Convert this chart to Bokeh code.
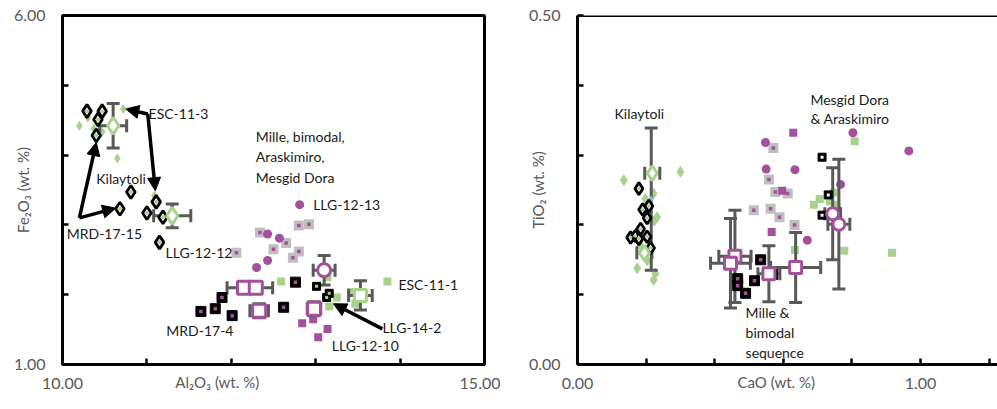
import numpy as np
from bokeh.plotting import figure
from bokeh.layouts import row
from bokeh.models import Range1d, FixedTicker, Label, Arrow, NormalHead, Span
from bokeh.embed import file_html
from bokeh.resources import INLINE

# ---------------- Left panel: Al2O3 vs Fe2O3 ----------------
kil_blk_al = [10.29, 10.47, 10.42, 10.40, 10.81, 10.68, 11.00, 11.11, 11.19, 11.15]
kil_blk_fe = [4.63, 4.63, 4.51, 4.28, 3.47, 3.23, 3.17, 3.33, 3.11, 2.75]
kil_grn_al = [10.20, 10.30, 10.37, 10.47, 10.72, 10.65, 11.09]
kil_grn_fe = [4.42, 4.54, 4.38, 4.33, 4.66, 3.95, 3.42]
kil_mean_al = [10.60, 11.30]
kil_mean_fe = [4.42, 3.13]
kil_mean_al_err = [0.16, 0.22]
kil_mean_fe_err = [0.32, 0.17]

mille_blk_al = [11.89, 11.81, 11.64, 12.01, 12.76, 12.62]
mille_blk_fe = [1.96, 1.80, 1.76, 1.70, 2.18, 1.82]
llg_blk_al = [13.01, 13.13, 13.16]
llg_blk_fe = [2.12, 1.96, 2.02]
gray_al = [12.34, 12.06, 12.80, 12.92, 12.65, 12.50, 12.80, 12.73]
gray_fe = [2.89, 2.60, 2.99, 3.01, 2.74, 2.65, 2.62, 2.53]
pcirc_al = [12.81, 12.43, 12.57, 12.43, 12.30]
pcirc_fe = [3.29, 2.87, 2.81, 2.49, 2.39]
psq_al = [12.84, 12.97, 13.14, 13.03]
psq_fe = [1.59, 1.65, 1.51, 1.39]
gsq_al = [12.59, 13.14, 13.25, 13.16, 13.85, 13.42, 13.51, 13.47]
gsq_fe = [2.19, 2.25, 1.96, 1.83, 2.19, 2.04, 2.04, 1.87]
gsq_mean_al = [13.53]
gsq_mean_fe = [1.99]
gsq_mean_al_err = [0.14]
gsq_mean_fe_err = [0.21]
psq_mean_al = [12.15, 12.29, 12.33, 12.98]
psq_mean_fe = [2.10, 2.10, 1.77, 1.80]
psq_mean_al_err = [0.20, 0.20, 0.11, 0.08]
psq_mean_fe_err = [0.07, 0.07, 0.10, 0.10]
pcirc_mean_al = [13.10]
pcirc_mean_fe = [2.35]
pcirc_mean_al_err = [0.13]
pcirc_mean_fe_err = [0.21]

# arrows (start x, start y, end x, end y) in data units
left_arrows = [
    (10.20, 3.10, 10.40, 4.18),
    (10.20, 3.10, 10.63, 3.24),
    (11.01, 4.59, 10.75, 4.66),
    (11.01, 4.59, 11.10, 3.49),
    (13.79, 1.51, 13.21, 1.87),
]
left_labels = [
    ("ESC-11-3", 11.02, 4.60),
    ("Kilaytoli", 10.40, 3.66),
    ("MRD-17-15", 10.05, 2.88),
    ("LLG-12-12", 11.22, 2.61),
    ("Mille, bimodal,", 12.29, 4.27),
    ("Araskimiro,", 12.29, 3.98),
    ("Mesgid Dora", 12.29, 3.68),
    ("LLG-12-13", 12.97, 3.29),
    ("ESC-11-1", 13.98, 2.15),
    ("MRD-17-4", 11.23, 1.49),
    ("LLG-14-2", 13.79, 1.53),
    ("LLG-12-10", 13.19, 1.27),
]

# ---------------- Right panel: CaO vs TiO2 ----------------
kil_blk_ca = [0.179, 0.190, 0.203, 0.208, 0.155, 0.169, 0.184, 0.179, 0.203, 0.213]
kil_blk_ti = [0.252, 0.222, 0.210, 0.227, 0.182, 0.184, 0.194, 0.180, 0.183, 0.167]
kil_grn_ca = [0.135, 0.300, 0.222, 0.198, 0.232, 0.224, 0.184, 0.193, 0.203, 0.174, 0.227, 0.222]
kil_grn_ti = [0.264, 0.276, 0.245, 0.237, 0.211, 0.206, 0.170, 0.158, 0.149, 0.138, 0.130, 0.121]
kil_mean_ca = [0.218, 0.195]
kil_mean_ti = [0.274, 0.160]
kil_mean_ca_err = [0.022, 0.022]
kil_mean_ti_err = [0.0, 0.0]
kil_mean2_ca = [0.215]
kil_mean2_ti = [0.237]
kil_mean2_ti_err = [0.102]

r_pcirc_ca = [0.548, 0.550, 0.634, 0.803, 0.966, 0.767, 0.670]
r_pcirc_ti = [0.318, 0.280, 0.279, 0.332, 0.306, 0.258, 0.178]
r_psq_ca = [0.629, 0.566, 0.597]
r_psq_ti = [0.332, 0.190, 0.249]
r_gray_ca = [0.571, 0.558, 0.577, 0.613, 0.514, 0.563, 0.589, 0.633]
r_gray_ti = [0.310, 0.265, 0.247, 0.245, 0.221, 0.223, 0.211, 0.200]
r_mille_blk_ca = [0.467, 0.467, 0.490, 0.516, 0.534, 0.569]
r_mille_blk_ti = [0.123, 0.113, 0.102, 0.120, 0.150, 0.129]
r_llg_blk_ca = [0.713, 0.731, 0.713]
r_llg_blk_ti = [0.297, 0.243, 0.214]
r_gsq_ca = [0.808, 0.706, 0.689, 0.736, 0.755, 0.747, 0.778, 0.917, 0.634]
r_gsq_ti = [0.320, 0.237, 0.229, 0.234, 0.229, 0.246, 0.163, 0.160, 0.164]
r_psq_mean_ca = [0.459, 0.446, 0.558, 0.636]
r_psq_mean_ti = [0.155, 0.145, 0.130, 0.139]
r_psq_mean_ca_err = [0.047, 0.058, 0.032, 0.073]
r_psq_mean_ti_err = [0.066, 0.064, 0.040, 0.050]
r_pcirc_mean_ca = [0.744, 0.762]
r_pcirc_mean_ti = [0.216, 0.201]
r_pcirc_mean_ca_err = [0.023, 0.032]
r_pcirc_mean_ti_err = [0.066, 0.093]

right_labels = [
    ("Kilaytoli", 0.108, 0.360),
    ("Mesgid Dora", 0.679, 0.380),
    ("& Araskimiro", 0.679, 0.353),
    ("Mille &", 0.490, 0.074),
    ("bimodal", 0.490, 0.046),
    ("sequence", 0.490, 0.017),
]

GREEN = "#a9d18e"
PURPLE = "#a3519b"
GRAY = "#bfbfbf"
EB = "#595959"
FONT = "Lato"
EMSP = "\u2003"


def style(p, xticks, xover, yticks, yover, xtitle, ytitle):
    p.xgrid.visible = False
    p.ygrid.visible = False
    p.background_fill_color = "white"
    p.border_fill_color = "white"
    p.xaxis.ticker = FixedTicker(ticks=xticks)
    p.yaxis.ticker = FixedTicker(ticks=yticks)
    p.xaxis.major_label_overrides = xover
    p.yaxis.major_label_overrides = yover
    for ax in (p.xaxis[0], p.yaxis[0]):
        ax.axis_line_width = 3
        ax.axis_line_color = "black"
        ax.major_tick_line_width = 2.5
        ax.major_tick_line_color = "black"
        ax.major_tick_in = 6
        ax.major_tick_out = 0
        ax.minor_tick_line_color = None
        ax.major_label_text_font = FONT
        ax.major_label_text_font_size = "16px"
        ax.major_label_text_color = "#595959"
        ax.axis_label_text_font = FONT
        ax.axis_label_text_font_size = "15px"
        ax.axis_label_text_font_style = "normal"
        ax.axis_label_text_color = "#595959"
    p.xaxis.major_label_standoff = 13
    p.yaxis.major_label_standoff = 17
    p.xaxis.axis_label = xtitle
    p.yaxis.axis_label = ytitle
    p.xaxis.axis_label_standoff = -19
    p.yaxis.axis_label_standoff = -21


def errbars(p, x, y, xerr, yerr, cap=13):
    x = np.asarray(x, float); y = np.asarray(y, float)
    xerr = np.asarray(xerr, float); yerr = np.asarray(yerr, float)
    mx = xerr > 0
    my = yerr > 0
    if mx.any():
        p.segment(x[mx] - xerr[mx], y[mx], x[mx] + xerr[mx], y[mx], line_color=EB, line_width=3)
        p.scatter(np.r_[x[mx] - xerr[mx], x[mx] + xerr[mx]], np.r_[y[mx], y[mx]], marker="dash",
                  angle=np.pi / 2, size=cap, line_color=EB, line_width=3)
    if my.any():
        p.segment(x[my], y[my] - yerr[my], x[my], y[my] + yerr[my], line_color=EB, line_width=3)
        p.scatter(np.r_[x[my], x[my]], np.r_[y[my] - yerr[my], y[my] + yerr[my]], marker="dash",
                  size=cap, line_color=EB, line_width=3)


def dotted(p, x, y, marker, size, fill, line, lw, dot, dsize, dmarker="square"):
    p.scatter(x, y, marker=marker, size=size, fill_color=fill, line_color=line, line_width=lw)
    p.scatter(x, y, marker=dmarker, size=dsize, fill_color=dot, line_color=None)


def text(p, t, x, y, size="14px", color="#1a1a1a", align="left"):
    p.add_layout(Label(x=x, y=y, text=t, text_font=FONT, text_font_size=size, text_color=color,
                       text_align=align, text_baseline="middle"))


# ---------- left figure ----------
p1 = figure(width=500, height=401, min_border_left=62, min_border_right=16,
            min_border_top=15, min_border_bottom=37, x_range=Range1d(10, 15), y_range=Range1d(1, 6),
            output_backend="svg", toolbar_location=None)
style(p1, [10, 11, 12, 13, 14, 15], {10: "10.00", 11: "", 12: "", 13: "", 14: "", 15: "15.00"},
      [1, 2, 3, 4, 5, 6], {1: "1.00", 2: "", 3: "", 4: "", 5: "", 6: "6.00"},
      "Al\u2082O\u2083 (wt. %)" + EMSP * 10, "Fe\u2082O\u2083 (wt. %)")
p1.outline_line_color = "black"
p1.outline_line_width = 3

p1.scatter(kil_grn_al, kil_grn_fe, marker="diamond", size=10, fill_color=GREEN, line_color=None)
p1.scatter(gray_al, gray_fe, marker="square", size=10, fill_color=GRAY, line_color=None)
p1.scatter(gray_al, gray_fe, marker="square", size=3.5, fill_color=PURPLE, line_color=None)
p1.scatter(pcirc_al, pcirc_fe, marker="circle", size=9, fill_color=PURPLE, line_color=None)
p1.scatter(psq_al, psq_fe, marker="square", size=8, fill_color=PURPLE, line_color=None)
p1.scatter(gsq_al, gsq_fe, marker="square", size=8, fill_color=GREEN, line_color=None)
errbars(p1, kil_mean_al, kil_mean_fe, kil_mean_al_err, kil_mean_fe_err)
errbars(p1, gsq_mean_al, gsq_mean_fe, gsq_mean_al_err, gsq_mean_fe_err)
errbars(p1, psq_mean_al, psq_mean_fe, psq_mean_al_err, psq_mean_fe_err)
errbars(p1, pcirc_mean_al, pcirc_mean_fe, pcirc_mean_al_err, pcirc_mean_fe_err)
dotted(p1, kil_blk_al, kil_blk_fe, "diamond", 13, "white", "black", 2.8, GREEN, 4, "circle")
dotted(p1, mille_blk_al, mille_blk_fe, "square", 10, "black", "black", 1, PURPLE, 3.5)
dotted(p1, llg_blk_al, llg_blk_fe, "square", 8, "black", "black", 1, GREEN, 3)
p1.scatter(kil_mean_al, kil_mean_fe, marker="diamond", size=17, fill_color="white", line_color=GREEN, line_width=3)
p1.scatter(gsq_mean_al, gsq_mean_fe, marker="square", size=12, fill_color="white", line_color=GREEN, line_width=3)
p1.scatter(psq_mean_al, psq_mean_fe, marker="square", size=13, fill_color="white", line_color=PURPLE, line_width=3)
p1.scatter(pcirc_mean_al, pcirc_mean_fe, marker="circle", size=13, fill_color="white", line_color=PURPLE, line_width=3)

for (x0, y0, x1, y1) in left_arrows:
    p1.add_layout(Arrow(x_start=x0, y_start=y0, x_end=x1, y_end=y1, line_color="black", line_width=3.5,
                        end=NormalHead(size=13, fill_color="black", line_color="black")))
for t, x, y in left_labels:
    text(p1, t, x, y)

# ---------- right figure ----------
p2 = figure(width=497, height=401, min_border_left=77, min_border_right=0,
            min_border_top=15, min_border_bottom=37, x_range=Range1d(0, 1.2245), y_range=Range1d(0, 0.5),
            output_backend="svg", toolbar_location=None)
style(p2, [0, 0.2, 0.4, 0.6, 0.8, 1.0, 1.2], {0: "0.00", 0.2: "", 0.4: "", 0.6: "", 0.8: "", 1.0: "1.00", 1.2: ""},
      [0, 0.1, 0.2, 0.3, 0.4, 0.5], {0: "0.00", 0.1: "", 0.2: "", 0.3: "", 0.4: "", 0.5: "0.50"},
      "CaO (wt. %)" + EMSP * 2, "TiO\u2082 (wt. %)")
p2.outline_line_color = None
p2.add_layout(Span(location=0.5, dimension="width", line_color="black", line_width=3))

p2.scatter(kil_grn_ca, kil_grn_ti, marker="diamond", size=12, fill_color=GREEN, line_color=None)
p2.scatter(r_gray_ca, r_gray_ti, marker="square", size=10, fill_color=GRAY, line_color=None)
p2.scatter(r_gray_ca, r_gray_ti, marker="square", size=3.5, fill_color=PURPLE, line_color=None)
p2.scatter(r_pcirc_ca, r_pcirc_ti, marker="circle", size=9, fill_color=PURPLE, line_color=None)
p2.scatter(r_psq_ca, r_psq_ti, marker="square", size=8, fill_color=PURPLE, line_color=None)
p2.scatter(r_gsq_ca, r_gsq_ti, marker="square", size=8, fill_color=GREEN, line_color=None)
errbars(p2, kil_mean_ca, kil_mean_ti, kil_mean_ca_err, kil_mean_ti_err)
errbars(p2, kil_mean2_ca, kil_mean2_ti, [0.0], kil_mean2_ti_err)
errbars(p2, r_psq_mean_ca, r_psq_mean_ti, r_psq_mean_ca_err, r_psq_mean_ti_err)
errbars(p2, r_pcirc_mean_ca, r_pcirc_mean_ti, r_pcirc_mean_ca_err, r_pcirc_mean_ti_err)
p2.scatter(kil_mean2_ca, kil_mean2_ti, marker="diamond", size=7, fill_color="#8fb4e3", line_color=None)
dotted(p2, kil_blk_ca, kil_blk_ti, "diamond", 12, "white", "black", 2.8, GREEN, 3.5, "circle")
dotted(p2, r_mille_blk_ca, r_mille_blk_ti, "square", 10, "black", "black", 1, PURPLE, 3.5)
dotted(p2, r_llg_blk_ca, r_llg_blk_ti, "square", 8, "black", "black", 1, "white", 3)
p2.scatter(kil_mean_ca, kil_mean_ti, marker="diamond", size=15, fill_color="white", line_color=GREEN, line_width=3)
p2.scatter(r_psq_mean_ca, r_psq_mean_ti, marker="square", size=12, fill_color="white", line_color=PURPLE, line_width=3)
p2.scatter(r_pcirc_mean_ca, r_pcirc_mean_ti, marker="circle", size=12, fill_color="white", line_color=PURPLE, line_width=3)

for t, x, y in right_labels:
    text(p2, t, x, y)

layout = row(p1, p2)
open("out.html", "w").write(file_html(layout, INLINE))
